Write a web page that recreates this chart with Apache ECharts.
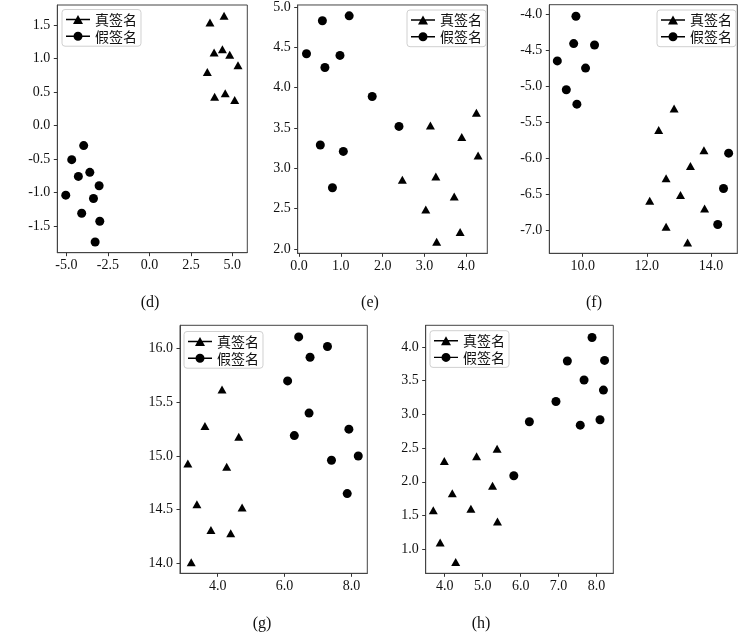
<!DOCTYPE html>
<html>
<head>
<meta charset="utf-8">
<script src="https://cdn.jsdelivr.net/npm/echarts@6/dist/echarts.min.js"></script>
<style>
  html, body { margin: 0; padding: 0; background: #fff; }
  #chart { width: 741px; height: 636px; }
</style>
</head>
<body>
<div id="chart"></div>
<script>
var legendNames = ['真签名', '假签名'];
var captions = ['(d)', '(e)', '(f)', '(g)', '(h)'];

// (d)
var dTrue = [[3.65,1.54],[4.5,1.64],[3.9,1.09],[4.4,1.14],[4.84,1.055],[5.34,0.9],[3.49,0.8],[3.93,0.43],[4.57,0.48],[5.14,0.38]];
var dFake = [[-3.96,-0.3],[-4.68,-0.51],[-4.28,-0.76],[-3.59,-0.7],[-3.03,-0.9],[-5.04,-1.04],[-3.37,-1.09],[-4.08,-1.31],[-2.99,-1.43],[-3.27,-1.74]];
var dXTicks = [-5, -2.5, 0, 2.5, 5];
var dYTicks = [-1.5, -1, -0.5, 0, 0.5, 1, 1.5];

// (e)
var eTrue = [[4.24,3.69],[3.14,3.53],[3.89,3.39],[4.28,3.16],[3.27,2.9],[2.47,2.86],[3.71,2.65],[3.03,2.49],[3.85,2.21],[3.29,2.09]];
var eFake = [[0.56,4.83],[1.2,4.89],[0.18,4.42],[0.98,4.4],[0.62,4.25],[1.75,3.89],[2.39,3.52],[0.51,3.29],[1.06,3.21],[0.8,2.76]];
var eXTicks = [0, 1, 2, 3, 4];
var eYTicks = [2, 2.5, 3, 3.5, 4, 4.5, 5];

// (f)
var fTrue = [[12.85,-5.31],[12.37,-5.61],[13.78,-5.89],[13.36,-6.11],[12.6,-6.28],[13.05,-6.51],[12.09,-6.59],[13.8,-6.7],[12.6,-6.95],[13.27,-7.17]];
var fFake = [[9.79,-4.03],[9.72,-4.41],[10.37,-4.43],[9.21,-4.65],[10.09,-4.75],[9.49,-5.05],[9.82,-5.25],[14.55,-5.93],[14.39,-6.42],[14.21,-6.92]];
var fXTicks = [10, 12, 14];
var fYTicks = [-7, -6.5, -6, -5.5, -5, -4.5, -4];

// (g)
var gTrue = [[4.13,15.62],[3.62,15.28],[4.63,15.18],[3.11,14.93],[4.27,14.9],[3.38,14.55],[4.73,14.52],[3.8,14.31],[4.39,14.28],[3.21,14.01]];
var gFake = [[6.42,16.11],[7.28,16.02],[6.76,15.92],[6.09,15.7],[6.73,15.4],[6.29,15.19],[7.92,15.25],[8.2,15.0],[7.4,14.96],[7.87,14.65]];
var gXTicks = [4, 6, 8];
var gYTicks = [14, 14.5, 15, 15.5, 16];

// (h)
var hTrue = [[5.38,2.49],[4.84,2.38],[3.99,2.31],[5.26,1.94],[4.2,1.83],[3.7,1.58],[4.69,1.6],[5.39,1.41],[3.88,1.1],[4.29,0.81]];
var hFake = [[7.88,4.14],[7.23,3.79],[8.21,3.8],[7.67,3.51],[8.18,3.36],[6.93,3.19],[6.23,2.89],[8.09,2.92],[7.57,2.84],[5.82,2.09]];
var hXTicks = [4, 5, 6, 7, 8];
var hYTicks = [1, 1.5, 2, 2.5, 3, 3.5, 4];

// layout of the five panels (px) and axis extents
var panels = [
  {grid: {left: 57.3, top: 5, width: 190, height: 247.7}, xr: [-5.55, 5.9], yr: [-1.9, 1.8],
   xt: dXTicks, yt: dYTicks, pts: [dTrue, dFake], leg: [62, 9.5], cap: [150, 303]},
  {grid: {left: 297.7, top: 4.7, width: 189.6, height: 248.6}, xr: [-0.03, 4.5], yr: [1.947, 5.025],
   xt: eXTicks, yt: eYTicks, pts: [eTrue, eFake], leg: [407, 10], cap: [370, 303]},
  {grid: {left: 549.3, top: 4.7, width: 188, height: 248.6}, xr: [8.96, 14.82], yr: [-7.32, -3.87],
   xt: fXTicks, yt: fYTicks, pts: [fTrue, fFake], leg: [657, 10], cap: [594, 303]},
  {grid: {left: 180, top: 325.3, width: 187.3, height: 248}, xr: [2.875, 8.47], yr: [13.907, 16.218],
   xt: gXTicks, yt: gYTicks, pts: [gTrue, gFake], leg: [184, 331.5], cap: [262, 624]},
  {grid: {left: 425.7, top: 325.3, width: 187.6, height: 248}, xr: [3.5, 8.44], yr: [0.644, 4.32],
   xt: hXTicks, yt: hYTicks, pts: [hTrue, hFake], leg: [430, 330.7], cap: [481, 624]}
];

// legend handles: line with marker on it
var triIcon = 'path://M0,3.8L24,3.8L24,5.2L0,5.2Z M12,0L17,9L7,9Z';
var dotIcon = 'path://M0,3.8L24,3.8L24,5.2L0,5.2Z M12,0A4.5,4.5 0 1,1 12,9A4.5,4.5 0 1,1 12,0Z';

var frameColor = '#444';
var serif = '"Liberation Serif", "Times New Roman", serif';

function fmt(v) {
  return v.toFixed(1);
}

function makeAxis(i, range, ticks, isY) {
  return {
    type: 'value', gridIndex: i, min: range[0], max: range[1],
    splitLine: {show: false},
    axisLine: {show: true, onZero: false, lineStyle: {color: frameColor, width: 1}},
    axisTick: {show: true, length: 3.5, customValues: ticks, lineStyle: {color: '#333'}},
    axisLabel: {customValues: ticks, formatter: fmt, margin: isY ? 7 : 6,
      fontFamily: serif, fontSize: 14, color: '#111'}
  };
}

var grids = [], xAxes = [], yAxes = [], series = [], legends = [], texts = [];

panels.forEach(function(p, i) {
  grids.push({left: p.grid.left, top: p.grid.top, width: p.grid.width, height: p.grid.height,
    show: true, borderColor: frameColor, borderWidth: 1});
  xAxes.push(makeAxis(i, p.xr, p.xt, false));
  yAxes.push(makeAxis(i, p.yr, p.yt, true));

  series.push({name: legendNames[0], type: 'scatter', xAxisIndex: i, yAxisIndex: i,
    symbol: 'triangle', symbolSize: [9, 8], itemStyle: {color: '#000', opacity: 1}, data: p.pts[0]});
  series.push({name: legendNames[1], type: 'scatter', xAxisIndex: i, yAxisIndex: i,
    symbol: 'circle', symbolSize: 9, itemStyle: {color: '#000', opacity: 1}, data: p.pts[1]});

  legends.push({
    left: p.leg[0], top: p.leg[1], orient: 'vertical', selectedMode: false,
    padding: [3, 4, 3, 4], itemGap: 2.7, itemWidth: 24, itemHeight: 9,
    backgroundColor: '#fff', borderColor: '#d0d0d0', borderWidth: 1, borderRadius: 3,
    textStyle: {fontFamily: '"Noto Sans CJK SC", sans-serif', fontSize: 14, lineHeight: 14, color: '#111'},
    data: [{name: legendNames[0], icon: triIcon}, {name: legendNames[1], icon: dotIcon}]
  });

  texts.push({type: 'text', x: p.cap[0], y: p.cap[1],
    style: {text: captions[i], fontFamily: serif, fontSize: 16, fill: '#111',
      textAlign: 'center', textVerticalAlign: 'middle'}});
});

var chart = echarts.init(document.getElementById('chart'), null, {renderer: 'canvas'});
chart.setOption({
  animation: false,
  backgroundColor: '#fff',
  grid: grids,
  xAxis: xAxes,
  yAxis: yAxes,
  legend: legends,
  series: series,
  graphic: texts
});
</script>
</body>
</html>
